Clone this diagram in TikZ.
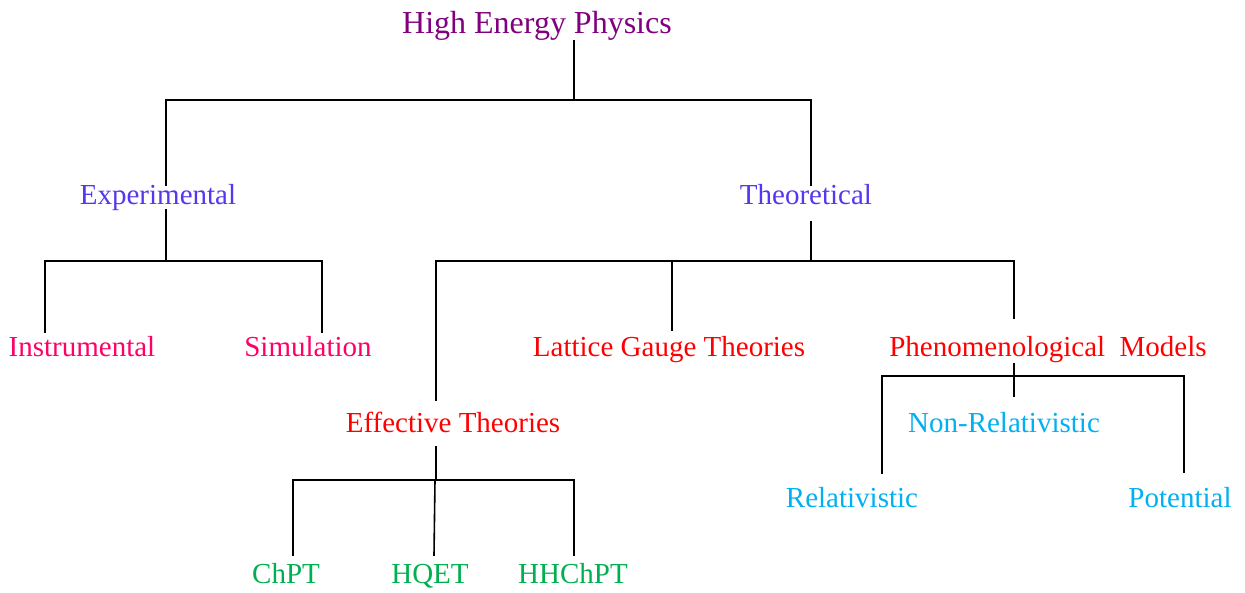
\documentclass[tikz,border=0pt]{standalone}
\usepackage{fontspec}
\setmainfont{Liberation Serif}
\definecolor{cpurple}{RGB}{128,0,128}
\definecolor{cblue}{RGB}{85,55,240}
\definecolor{cpink}{RGB}{255,0,102}
\definecolor{cred}{RGB}{255,0,0}
\definecolor{ccyan}{RGB}{0,176,240}
\definecolor{cgreen}{RGB}{0,176,80}
\tikzset{
  lbl/.style={anchor=base, inner sep=0pt, font=\fontsize{29}{34}\selectfont},
  title/.style={lbl, font=\fontsize{32}{38}\selectfont, text=cpurple},
  lvla/.style={lbl, text=cblue},
  lvlb/.style={lbl, text=cpink},
  lvlc/.style={lbl, text=cred},
  lvld/.style={lbl, text=ccyan},
  lvle/.style={lbl, text=cgreen},
  wire/.style={draw=black, line width=1.6pt, line cap=rect}
}
\begin{document}
\begin{tikzpicture}[x=1pt, y=-1pt]
\useasboundingbox (0,0) rectangle (1245,592);
% nodes
\node[title] (hep) at (537,33) {High Energy Physics};
\node[lvla] (exp) at (158,204.5) {Experimental};
\node[lvla] (theo) at (806,204.5) {Theoretical};
\node[lvlb] (instr) at (82,356.5) {Instrumental};
\node[lvlb] (sim) at (308,356.5) {Simulation};
\node[lvlc] (lat) at (669,356.5) {Lattice Gauge Theories};
\node[lvlc] (phen) at (1048,356.5) {Phenomenological\ \ Models};
\node[lvlc] (eff) at (453,432.5) {Effective Theories};
\node[lvld] (nonrel) at (1004,432.5) {Non-Relativistic};
\node[lvld] (rel) at (852,507.5) {Relativistic};
\node[lvld] (pot) at (1180,507.5) {Potential};
\node[lvle] (chpt) at (286,583.5) {ChPT};
\node[lvle] (hqet) at (430,583.5) {HQET};
\node[lvle] (hhchpt) at (573,583.5) {HHChPT};
% junction coordinates
\coordinate (hepA) at (574,41);
\coordinate (hepJ) at (574,100);
\coordinate (expT) at (166,185);
\coordinate (theoT) at (811,185);
\coordinate (expB) at (166,210);
\coordinate (expJ) at (166,261);
\coordinate (instrT) at (45,332);
\coordinate (simT) at (322,332);
\coordinate (theoB) at (811,222);
\coordinate (theoJ) at (811,261);
\coordinate (effT) at (436,400);
\coordinate (latT) at (672,330);
\coordinate (phenT) at (1014,318);
\coordinate (effB) at (436,447);
\coordinate (effJ) at (435,480);
\coordinate (chptT) at (293,555);
\coordinate (hqetT) at (434,555);
\coordinate (hhchptT) at (574,555);
\coordinate (phenB) at (1014,364);
\coordinate (phenJ) at (1014,376);
\coordinate (nonrelT) at (1014,396);
\coordinate (relT) at (882,473);
\coordinate (potT) at (1184,472);
% connectors
\draw[wire] (hepA) -- (hepJ);
\draw[wire] (expT) |- (hepJ) -| (theoT);
\draw[wire] (expB) -- (expJ);
\draw[wire] (instrT) |- (expJ) -| (simT);
\draw[wire] (theoB) -- (theoJ);
\draw[wire] (effT) |- (theoJ) -| (phenT);
\draw[wire] (latT) -- (latT |- theoJ);
\draw[wire] (effB) -- (effB |- effJ);
\draw[wire] (chptT) |- (effJ) -| (hhchptT);
\draw[wire] (effJ) -- (hqetT);
\draw[wire] (phenB) -- (nonrelT);
\draw[wire] (relT) |- (phenJ) -| (potT);
\end{tikzpicture}
\end{document}
